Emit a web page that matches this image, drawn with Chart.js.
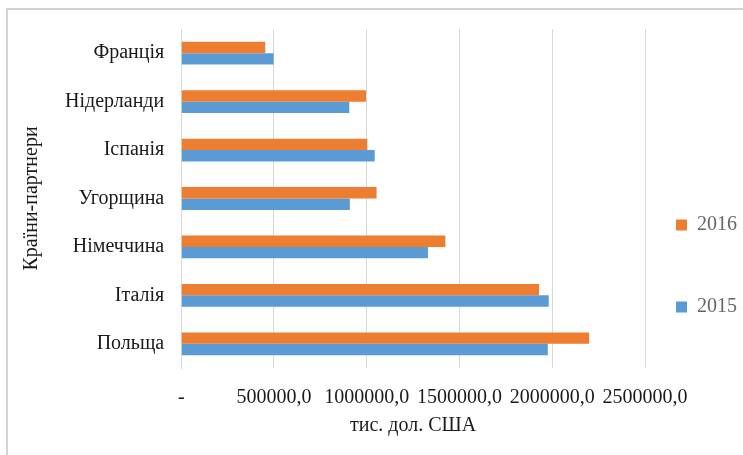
<!DOCTYPE html>
<html>
<head>
<meta charset="utf-8">
<script src="https://cdn.jsdelivr.net/npm/chart.js@4"></script>
<style>
  html, body { margin: 0; padding: 0; background: #fff; overflow: hidden; }
  #frame { position: absolute; left: 6px; top: 8px; width: 800px; height: 500px; border: 2px solid #d4d4d4; }
  #wrap { position: absolute; left: 0; top: 0; width: 743px; height: 455px; }
</style>
</head>
<body>
<div id="frame"></div>
<div id="wrap"><canvas id="chart"></canvas></div>
<script>
// Країни-партнери (зверху вниз)
const countries = ['Франція', 'Нідерланди', 'Іспанія', 'Угорщина', 'Німеччина', 'Італія', 'Польща'];
// тис. дол. США
const values2016 = [453000, 996000, 1003000, 1053000, 1424000, 1929000, 2199000];
const values2015 = [498000, 906000, 1043000, 909000, 1330000, 1981000, 1976000];
const seriesLabels = ['2016', '2015'];
const xTicks = [0, 500000, 1000000, 1500000, 2000000, 2500000];

const font = 'Liberation Serif';
const textColor = '#1a1a1a';
const gridColor = '#d9d9d9';

// формат як у Excel: "-" для нуля, кома як роздільник
const fmt = (v) => v === 0 ? '-' : v.toFixed(1).replace('.', ',');

new Chart(document.getElementById('chart'), {
    type: 'bar',
    data: {
        labels: countries,
        datasets: [{
            label: seriesLabels[0],
            data: values2016,
            backgroundColor: '#ED7D31'
        }, {
            label: seriesLabels[1],
            data: values2015,
            backgroundColor: '#5B9BD5'
        }]
    },
    options: {
        indexAxis: 'y',
        responsive: true,
        maintainAspectRatio: false,
        animation: false,
        categoryPercentage: 0.47,
        barPercentage: 1,
        layout: { padding: { top: 27, left: 8, right: -4, bottom: 9 } },
        plugins: {
            tooltip: { enabled: false },
            legend: {
                position: 'right',
                title: { display: true, text: '', font: { size: 12, lineHeight: 1 }, padding: { top: 0, bottom: 78 } },
                labels: {
                    boxWidth: 11,
                    boxHeight: 11,
                    padding: 31,
                    color: textColor,
                    font: { family: font, size: 20, lineHeight: '51px' },
                    // текст як масив, щоб висота рядка задавала відстань між пунктами
                    generateLabels: (chart) => chart.data.datasets.map((ds, i) => ({
                        text: [ds.label],
                        fillStyle: ds.backgroundColor,
                        strokeStyle: ds.backgroundColor,
                        lineWidth: 0,
                        datasetIndex: i,
                        hidden: false
                    }))
                }
            }
        },
        scales: {
            x: {
                min: 0,
                max: 2500000,
                afterBuildTicks: (scale) => { scale.ticks = xTicks.map(v => ({ value: v })); },
                grid: { color: gridColor, drawTicks: false },
                border: { display: false },
                ticks: {
                    padding: 18,
                    maxRotation: 0,
                    autoSkip: false,
                    color: textColor,
                    font: { family: font, size: 20 },
                    callback: (v) => fmt(v)
                },
                title: {
                    display: true,
                    text: 'тис. дол. США',
                    color: textColor,
                    font: { family: font, size: 20 },
                    padding: { top: -14, bottom: 8 }
                }
            },
            y: {
                grid: { display: false, drawTicks: false },
                border: { display: true, color: gridColor },
                ticks: {
                    padding: 17,
                    color: textColor,
                    font: { family: font, size: 20 }
                },
                title: {
                    display: true,
                    text: 'Країни-партнери',
                    color: textColor,
                    font: { family: font, size: 20 },
                    padding: { top: 12, bottom: 4 }
                }
            }
        }
    }
});
</script>
</body>
</html>
